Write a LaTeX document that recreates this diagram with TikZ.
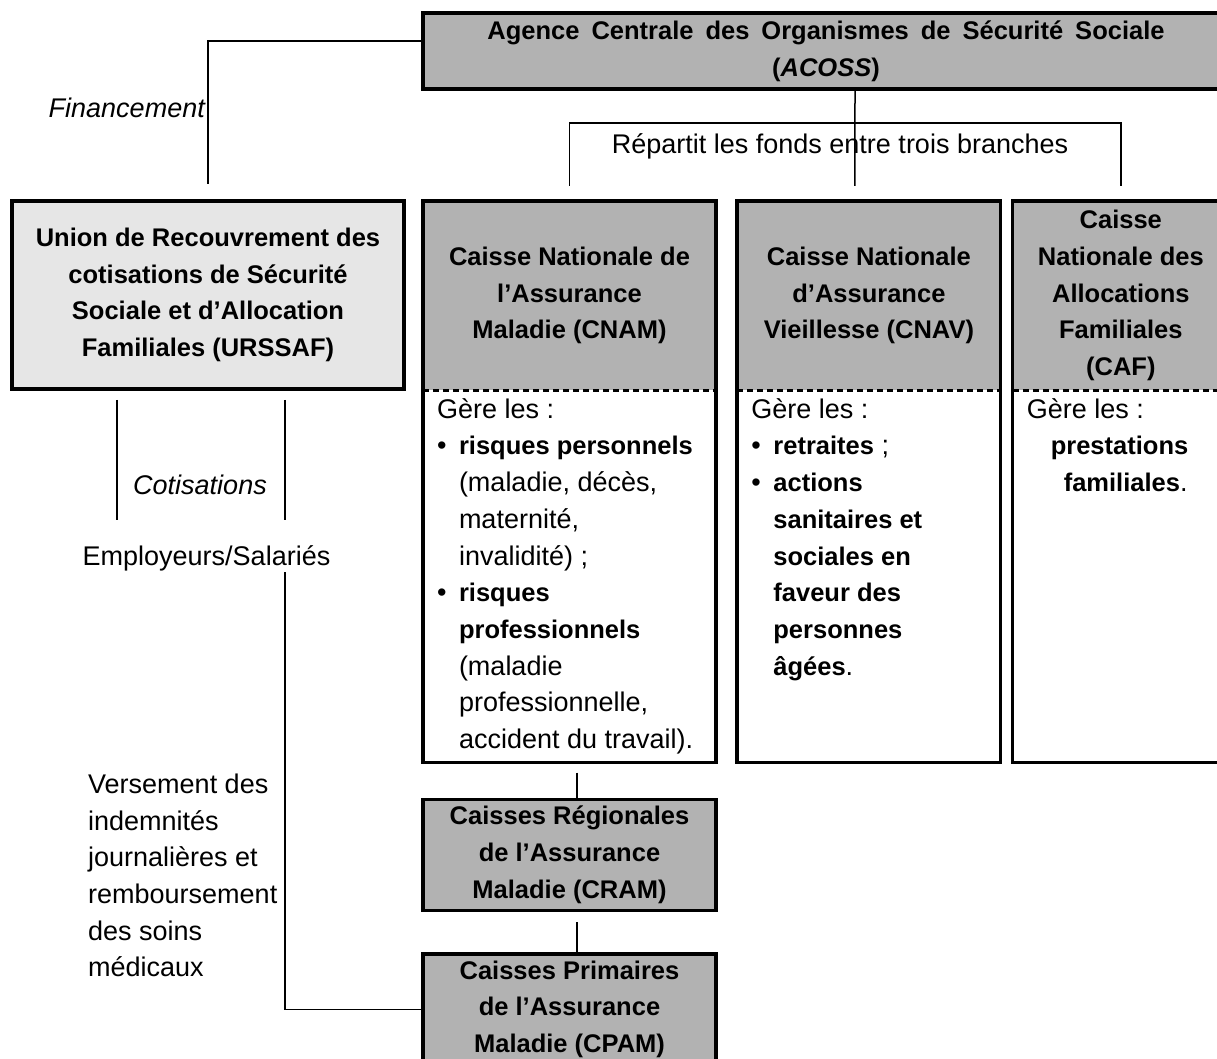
\documentclass[tikz,border=0pt]{standalone}
\usepackage{fontspec}
\setmainfont{Liberation Sans}
\usepackage{tikz}
\usetikzlibrary{positioning,calc}
\definecolor{entetegris}{RGB}{178,178,178}
\definecolor{unionclair}{RGB}{230,230,230}
\newcommand{\txtnorm}{\fontsize{27}{36.7}\selectfont}
\newcommand{\txtgras}{\fontsize{25.5}{36.7}\selectfont\bfseries}
\newcommand{\txtlarge}{\txtgras\spaceskip=12pt plus 2pt minus 2pt\relax}
\newcommand{\gras}[1]{{\txtgras #1}}
\newcommand{\puce}{\makebox[22pt][l]{\textbullet}}
\newcommand{\retrait}{\hspace*{22pt}}

\begin{document}
\begin{tikzpicture}[x=1pt,y=-1pt,
    tete/.style={fill=entetegris,inner sep=0pt,minimum height=189pt,align=center,font=\txtgras},
    corps/.style={fill=white,inner sep=0pt,minimum height=372pt},
    cadre/.style={line width=3.5pt},
    lien/.style={line width=1.5pt},
    texte/.style={inner sep=0pt,align=left,font=\txtnorm}]

    \useasboundingbox (0,0) rectangle (1217,1059);

    % Agence centrale
    \node[tete,draw,cadre,minimum width=806pt,minimum height=76pt,font=\txtlarge] (acoss) at (826,51)
        {Agence Centrale des Organismes de Sécurité Sociale\\(\textit{ACOSS})};

    % Union de recouvrement
    \node[tete,draw,cadre,fill=unionclair,minimum width=392pt,minimum height=188pt] (urssaf) at (208,295)
        {Union de Recouvrement des\\cotisations de Sécurité\\Sociale et d’Allocation\\Familiales (URSSAF)};

    % Les trois branches
    \node[tete,minimum width=293pt] (cnamH) at (569.5,295.5) {Caisse Nationale de\\l’Assurance\\Maladie (CNAM)};
    \node[tete,minimum width=263pt,right=21pt of cnamH] (cnavH) {Caisse Nationale\\d’Assurance\\Vieillesse (CNAV)};
    \node[tete,minimum width=216pt,right=12pt of cnavH] (cafH) {Caisse\\Nationale des\\Allocations\\Familiales\\(CAF)};
    \foreach \br/\w in {cnam/293,cnav/263,caf/216} {
        \node[corps,minimum width=\w pt,anchor=north] (\br B) at (\br H.south) {};
        \draw[cadre] (\br H.north west) rectangle (\br B.south east);
        \draw[cadre,line width=3pt,dash pattern=on 6pt off 4pt] (\br H.south west) -- (\br H.south east);
    }

    % Ce que gere chaque branche
    \node[texte,anchor=north west] (cnamT) at ([xshift=14pt,yshift=-8pt]cnamB.north west)
        {Gère les :\\
        \puce\gras{risques personnels}\\
        \retrait(maladie, décès,\\
        \retrait maternité,\\
        \retrait invalidité) ;\\
        \puce\gras{risques}\\
        \retrait\gras{professionnels}\\
        \retrait(maladie\\
        \retrait professionnelle,\\
        \retrait accident du travail).};
    \node[texte,anchor=north west] (cnavT) at ([xshift=14pt,yshift=-8pt]cnavB.north west)
        {Gère les :\\
        \puce\gras{retraites} ;\\
        \puce\gras{actions}\\
        \retrait\gras{sanitaires et}\\
        \retrait\gras{sociales en}\\
        \retrait\gras{faveur des}\\
        \retrait\gras{personnes}\\
        \retrait\gras{âgées}.};
    \node[texte,anchor=north west] (cafT) at ([xshift=14pt,yshift=-8pt]cafB.north west)
        {Gère les :\\
        \hspace*{24pt}\gras{prestations}\\
        \hspace*{37pt}\gras{familiales}.};

    % Caisses regionales et primaires
    \node[tete,draw,cadre,minimum width=293pt,minimum height=111pt,below=35pt of cnamB] (cram)
        {Caisses Régionales\\de l’Assurance\\Maladie (CRAM)};
    \node[tete,draw,cadre,minimum width=293pt,minimum height=111pt,below=40pt of cram] (cpam)
        {Caisses Primaires\\de l’Assurance\\Maladie (CPAM)};
    \draw[lien] ([xshift=7.5pt,yshift=-10pt]cnamB.south) -- ([xshift=7.5pt]cram.north);
    \draw[lien] ([xshift=7.5pt,yshift=-10pt]cram.south) -- ([xshift=7.5pt]cpam.north);

    % Financement
    \draw[lien] ([yshift=10pt]acoss.west) -| ([yshift=15pt]urssaf.north);
    \node[texte,anchor=east,font=\txtnorm\itshape] (finance) at (205,108) {Financement};

    % Repartition des fonds
    \draw[lien] ([yshift=15pt]cnamH.north) |- ([yshift=78pt]cafH.north) -- ([yshift=15pt]cafH.north);
    \draw[lien] ([xshift=29pt]acoss.south) -- ([xshift=-14pt,yshift=15pt]cnavH.north);
    \node[texte] (repartit) at (840,146) {Répartit les fonds entre trois branches};

    % Cotisations
    \node[texte] (employeurs) at (206.5,558) {Employeurs/Salariés};
    \node[texte,font=\txtnorm\itshape] (cotis) at (200,485) {Cotisations};
    \draw[lien] ([xshift=-91pt,yshift=-9pt]urssaf.south) -- ([xshift=-89.5pt,yshift=38pt]employeurs.center);
    \draw[lien] ([xshift=77pt,yshift=-9pt]urssaf.south) -- ([xshift=78.5pt,yshift=38pt]employeurs.center);

    % Versement
    \draw[lien] ([xshift=78.5pt,yshift=-14pt]employeurs.center) |- (cpam.west);
    \node[texte,anchor=west] (versement) at (88,875.5)
        {Versement des\\indemnités\\journalières et\\remboursement\\des soins\\médicaux};
\end{tikzpicture}
\end{document}
